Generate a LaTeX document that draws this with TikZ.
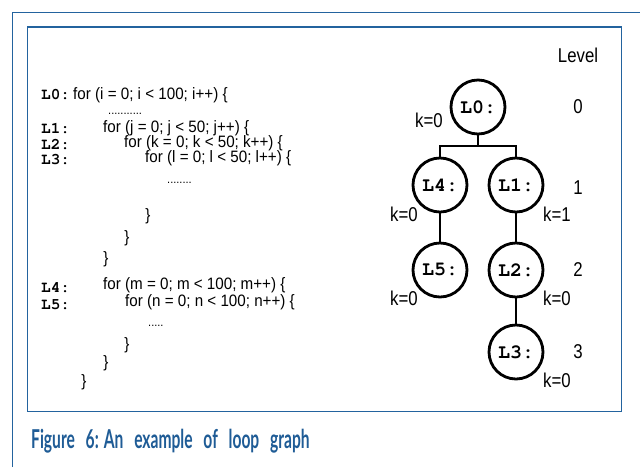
\documentclass[tikz,border=0pt]{standalone}
\usepackage{fontspec}
\setmainfont{Liberation Sans}
\newfontfamily\codefont[FakeStretch=0.92]{Liberation Sans}
\newcommand\loopfont{\fontencoding{T1}\fontfamily{pcr}\fontseries{b}\selectfont}
\newfontfamily\treefont[FakeStretch=0.84]{Liberation Sans}
\newfontfamily\capfont[FakeStretch=0.6]{Lato}
\definecolor{frameblue}{HTML}{23639E}
\definecolor{capblue}{HTML}{1F5C96}

\tikzset{
  codeline/.style={anchor=base west, inner sep=0, font=\fontsize{16.5}{16.5}\codefont},
  codelabel/.style={anchor=base west, inner sep=0, font=\fontsize{16}{16}\loopfont},
  codedots/.style={anchor=base west, inner sep=0, font=\fontsize{12}{12}\codefont},
  codebrace/.style={anchor=center, inner sep=0, font=\fontsize{16.5}{16.5}\codefont},
  loopnode/.style={circle, draw, line width=2.8pt, minimum size=54pt, inner sep=0,
                   font=\fontsize{20}{20}\loopfont},
  treeedge/.style={line width=2.8pt},
  kval/.style={inner sep=0, font=\fontsize{20}{20}\treefont},
  levelnum/.style={inner sep=0, font=\fontsize{20}{20}\treefont},
}

\begin{document}
\begin{tikzpicture}[x=1pt, y=-1pt]
  \useasboundingbox (0,0) rectangle (640,467);
  \fill[white] (0,0) rectangle (640,467);

  % page frame and figure box
  \draw[frameblue, line width=1.8pt] (12.5,467) -- (12.5,12.5) -- (640,12.5);
  \draw[frameblue, line width=1.6pt] (27.5,27) rectangle (621.5,411.5);

  % source code
  \node[codelabel] (c0) at (41,99) {L0:};
  \node[codeline]  (f0) at (73,99) {for (i = 0; i < 100; i++) \{};
  \node[codedots]  (d0) at (108,114) {...........};
  \node[codelabel] (c1) at (41,133) {L1:};
  \node[codeline]  (f1) at (103,132) {for (j = 0; j < 50; j++) \{};
  \node[codelabel] (c2) at (41,149) {L2:};
  \node[codeline]  (f2) at (124,147) {for (k = 0; k < 50; k++) \{};
  \node[codelabel] (c3) at (41,164) {L3:};
  \node[codeline]  (f3) at (145,162) {for (l = 0; l < 50; l++) \{};
  \node[codedots]  (d1) at (167,183) {........};
  \node[codebrace] (b0) at (148,216) {\}};
  \node[codebrace] (b1) at (127,238) {\}};
  \node[codebrace] (b2) at (106,259) {\}};
  \node[codelabel] (c4) at (41,292) {L4:};
  \node[codeline]  (f4) at (103,289) {for (m = 0; m < 100; m++) \{};
  \node[codelabel] (c5) at (41,309) {L5:};
  \node[codeline]  (f5) at (125,306) {for (n = 0; n < 100; n++) \{};
  \node[codedots]  (d2) at (148,326) {.....};
  \node[codebrace] (b3) at (127,345) {\}};
  \node[codebrace] (b4) at (106,363) {\}};
  \node[codebrace] (b5) at (84,382) {\}};

  % loop graph
  \node[loopnode] (L0) at (478,107) {L0:};
  \node[loopnode] (L4) at (440,185) {L4:};
  \node[loopnode] (L1) at (516,185) {L1:};
  \node[loopnode] (L5) at (440,270) {L5:};
  \node[loopnode] (L2) at (516,270) {L2:};
  \node[loopnode] (L3) at (516,352) {L3:};
  \coordinate (bar) at (478,146);

  \draw[treeedge] (L0.south) -- (bar);
  \draw[treeedge] (L4.north) -- (L4.north |- bar) -- (L1.north |- bar) -- (L1.north);
  \draw[treeedge] (L4) -- (L5);
  \draw[treeedge] (L1) -- (L2);
  \draw[treeedge] (L2) -- (L3);

  \node[kval] (k0) at (429,120) {k=0};
  \node[kval] (k4) at (404,214) {k=0};
  \node[kval] (k1) at (557,214) {k=1};
  \node[kval] (k5) at (404,298) {k=0};
  \node[kval] (k2) at (557,298) {k=0};
  \node[kval] (k3) at (557,380) {k=0};

  % level column
  \node[levelnum] (lv)  at (578,55)  {Level};
  \node[levelnum] (lv0) at (578,107) {0};
  \node[levelnum] (lv1) at (578,188) {1};
  \node[levelnum] (lv2) at (578,270) {2};
  \node[levelnum] (lv3) at (578,352) {3};

  % caption
  \node[anchor=base west, inner sep=0, text=capblue, font=\fontsize{26}{26}\capfont\bfseries]
    (cap) at (31,448) {Figure\hspace{7pt} 6: An\hspace{7pt} example\hspace{7pt} of\hspace{7pt} loop\hspace{7pt} graph};
\end{tikzpicture}
\end{document}
